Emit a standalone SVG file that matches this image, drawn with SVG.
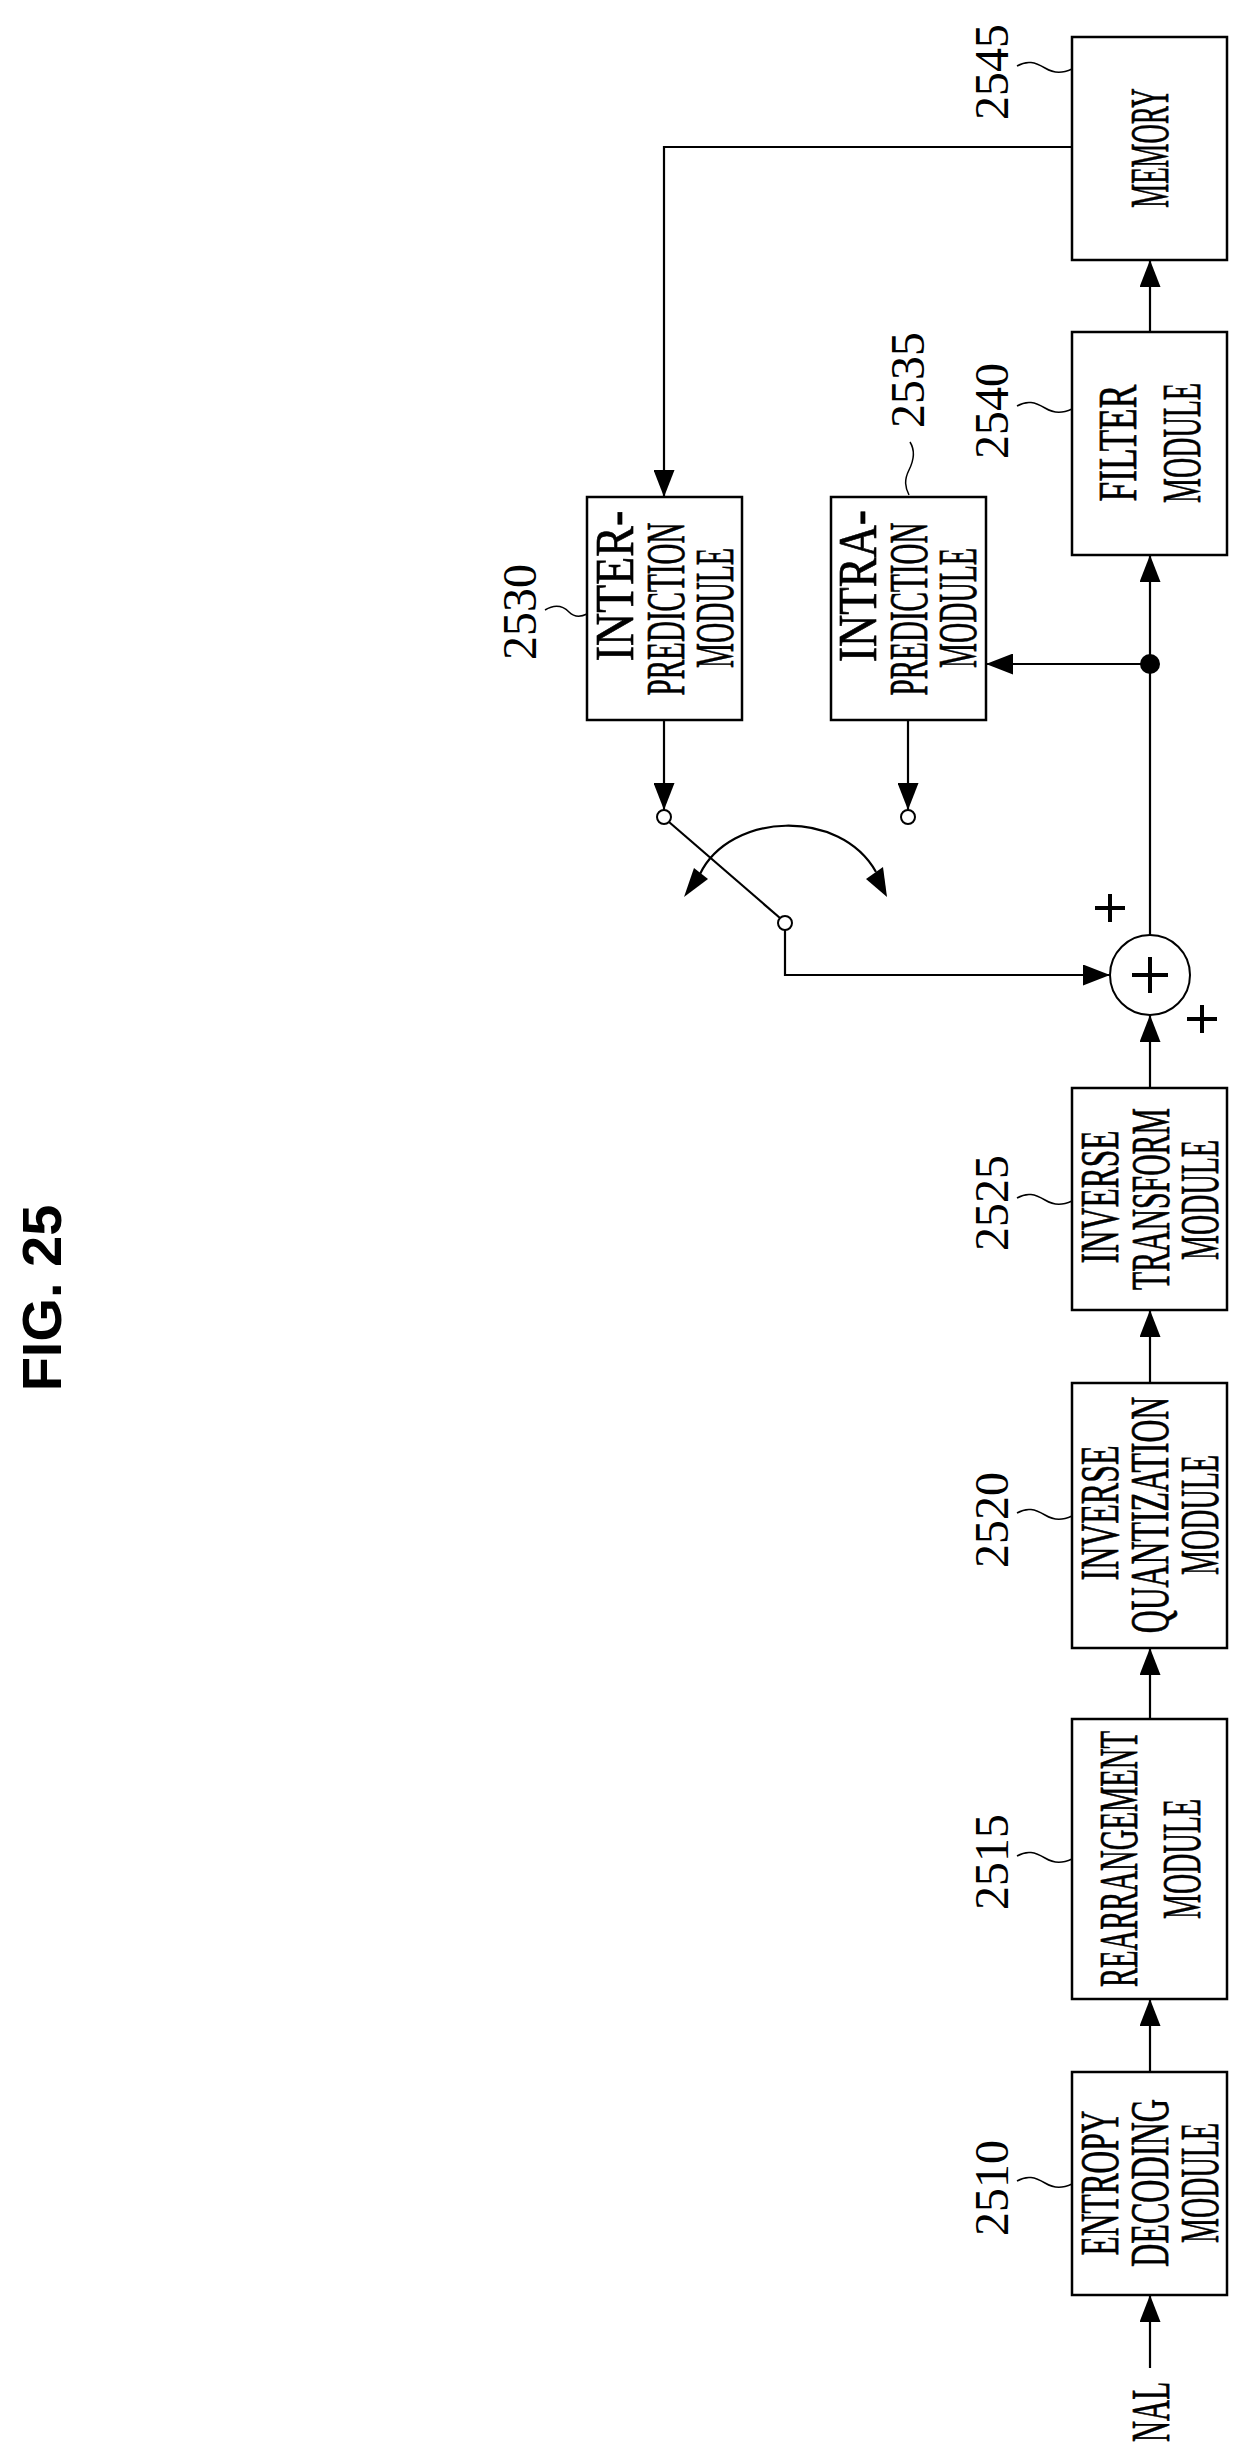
<svg xmlns="http://www.w3.org/2000/svg" width="1248" height="2462" viewBox="0 0 1248 2462">
<style>
.box{fill:#fff;stroke:#000;stroke-width:2.5}
.ln{fill:none;stroke:#000;stroke-width:2.2}
.ld{fill:none;stroke:#000;stroke-width:1.5}
.t{font-family:"Liberation Serif",serif;font-size:54px;text-anchor:middle;dominant-baseline:central;stroke:#000;stroke-width:0.7}
.n{font-family:"Liberation Serif",serif;font-size:48px;text-anchor:middle;dominant-baseline:central}
.p{fill:none;stroke:#000;stroke-width:4}
</style>
<defs>
<marker id="ah" markerWidth="27" markerHeight="21" refX="27" refY="10.5" orient="auto" markerUnits="userSpaceOnUse" viewBox="0 0 27 21">
<path d="M0,0 L27,10.5 L0,21 Z" fill="#000"/>
</marker>
</defs>
<text x="0" y="0" transform="translate(41,1298) rotate(-90)" font-family="Liberation Sans,Arial,sans-serif" font-weight="bold" font-size="56" text-anchor="middle" dominant-baseline="central">FIG. 25</text>

<g id="connectors">
<line class="ln" x1="1150" y1="2368" x2="1150" y2="2295" marker-end="url(#ah)"/>
<line class="ln" x1="1150" y1="2072" x2="1150" y2="1999" marker-end="url(#ah)"/>
<line class="ln" x1="1150" y1="1719" x2="1150" y2="1648" marker-end="url(#ah)"/>
<line class="ln" x1="1150" y1="1383" x2="1150" y2="1310" marker-end="url(#ah)"/>
<line class="ln" x1="1150" y1="1088" x2="1150" y2="1015" marker-end="url(#ah)"/>
<line class="ln" x1="1150" y1="935" x2="1150" y2="555" marker-end="url(#ah)"/>
<line class="ln" x1="1150" y1="332" x2="1150" y2="260" marker-end="url(#ah)"/>
<polyline class="ln" points="1072,147 664,147 664,497" marker-end="url(#ah)"/>
<line class="ln" x1="1150" y1="664" x2="986" y2="664" marker-end="url(#ah)"/>
<circle cx="1150" cy="664" r="10" fill="#000"/>
<line class="ln" x1="664" y1="720" x2="664" y2="810" marker-end="url(#ah)"/>
<line class="ln" x1="908" y1="720" x2="908" y2="810" marker-end="url(#ah)"/>
<line class="ln" x1="669" y1="822" x2="780" y2="918"/>
<polyline class="ln" points="785,930 785,975 1110,975" marker-end="url(#ah)"/>
<circle cx="664" cy="817" r="7" fill="#fff" stroke="#000" stroke-width="2"/>
<circle cx="908" cy="817" r="7" fill="#fff" stroke="#000" stroke-width="2"/>
<circle cx="785" cy="923" r="7" fill="#fff" stroke="#000" stroke-width="2"/>
<path class="ln" d="M700,874 C730,812 840,808 876,872"/>
<polygon points="684,897 694,868 708,879" fill="#000"/>
<polygon points="887,897 866,879 883,867" fill="#000"/>
</g>

<g id="adder">
<circle cx="1150" cy="975" r="40" fill="#fff" stroke="#000" stroke-width="2"/>
<path class="p" d="M1132,975 H1168 M1150,957 V993"/>
<path class="p" d="M1095,908 H1125 M1110,894 V922"/>
<path class="p" d="M1187,1019 H1217 M1202,1005 V1033"/>
</g>

<g id="memory">
<rect class="box" x="1072" y="37" width="155" height="223"/>
<text class="t" transform="translate(1150,148) rotate(-90) scale(0.498,1)">MEMORY</text>
</g>
<g id="filter">
<rect class="box" x="1072" y="332" width="155" height="223"/>
<text class="t" transform="translate(1118,443) rotate(-90) scale(0.656,1)">FILTER</text>
<text class="t" transform="translate(1182,443) rotate(-90) scale(0.519,1)">MODULE</text>
</g>
<g id="invtransform">
<rect class="box" x="1072" y="1088" width="155" height="222"/>
<text class="t" transform="translate(1100,1197) rotate(-90) scale(0.583,1)">INVERSE</text>
<text class="t" transform="translate(1150,1199) rotate(-90) scale(0.551,1)">TRANSFORM</text>
<text class="t" transform="translate(1200,1200) rotate(-90) scale(0.519,1)">MODULE</text>
</g>
<g id="invquant">
<rect class="box" x="1072" y="1383" width="155" height="265"/>
<text class="t" transform="translate(1100,1513) rotate(-90) scale(0.592,1)">INVERSE</text>
<text class="t" transform="translate(1150,1515) rotate(-90) scale(0.589,1)">QUANTIZATION</text>
<text class="t" transform="translate(1200,1515) rotate(-90) scale(0.519,1)">MODULE</text>
</g>
<g id="rearrangement">
<rect class="box" x="1072" y="1719" width="155" height="280"/>
<text class="t" transform="translate(1118,1859) rotate(-90) scale(0.53,1)">REARRANGEMENT</text>
<text class="t" transform="translate(1182,1859) rotate(-90) scale(0.519,1)">MODULE</text>
</g>
<g id="entropy">
<rect class="box" x="1072" y="2072" width="155" height="223"/>
<text class="t" transform="translate(1100,2183) rotate(-90) scale(0.582,1)">ENTROPY</text>
<text class="t" transform="translate(1150,2183) rotate(-90) scale(0.596,1)">DECODING</text>
<text class="t" transform="translate(1200,2183) rotate(-90) scale(0.519,1)">MODULE</text>
</g>
<g id="inter">
<rect class="box" x="587" y="497" width="155" height="223"/>
<text class="t" transform="translate(615,586) rotate(-90) scale(0.85,1)">INTER-</text>
<text class="t" transform="translate(665,609) rotate(-90) scale(0.539,1)">PREDICTION</text>
<text class="t" transform="translate(715,608) rotate(-90) scale(0.519,1)">MODULE</text>
</g>
<g id="intra">
<rect class="box" x="831" y="497" width="155" height="223"/>
<text class="t" transform="translate(858,586) rotate(-90) scale(0.83,1)">INTRA-</text>
<text class="t" transform="translate(908,609) rotate(-90) scale(0.539,1)">PREDICTION</text>
<text class="t" transform="translate(958,608) rotate(-90) scale(0.519,1)">MODULE</text>
</g>
<g id="nal">
<text class="t" transform="translate(1150,2412) rotate(-90) scale(0.54,1)">NAL</text>
</g>

<g id="labels">
<text class="n" transform="translate(991,72) rotate(-90)">2545</text>
<path class="ld" d="M1017,66 c10,-6 18,-4 28,2 s18,5 27,1"/>
<text class="n" transform="translate(991,411) rotate(-90)">2540</text>
<path class="ld" d="M1017,406 c10,-6 18,-4 28,2 s18,5 27,1"/>
<text class="n" transform="translate(907,380) rotate(-90)">2535</text>
<path class="ld" d="M910,442 c5,8 4,18 -1,28 s-4,17 0,25"/>
<text class="n" transform="translate(519,612) rotate(-90)">2530</text>
<path class="ld" d="M545,610 c10,-6 18,-4 24,2 s12,5 18,2"/>
<text class="n" transform="translate(991,1203) rotate(-90)">2525</text>
<path class="ld" d="M1017,1198 c10,-6 18,-4 28,2 s18,5 27,1"/>
<text class="n" transform="translate(991,1520) rotate(-90)">2520</text>
<path class="ld" d="M1017,1513 c10,-6 18,-4 28,2 s18,5 27,1"/>
<text class="n" transform="translate(991,1862) rotate(-90)">2515</text>
<path class="ld" d="M1017,1856 c10,-6 18,-4 28,2 s18,5 27,1"/>
<text class="n" transform="translate(991,2188) rotate(-90)">2510</text>
<path class="ld" d="M1017,2181 c10,-6 18,-4 28,2 s18,5 27,1"/>
</g>
</svg>
